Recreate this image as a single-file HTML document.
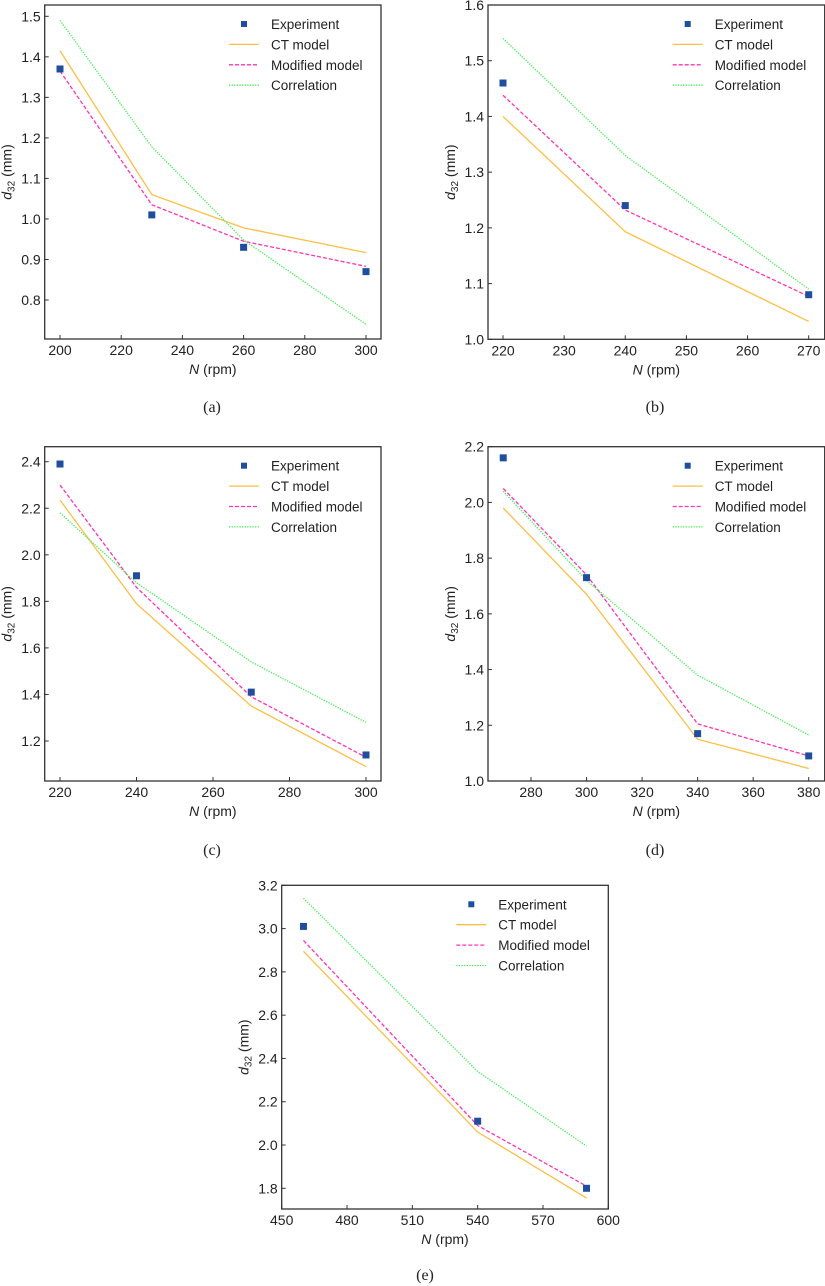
<!DOCTYPE html>
<html><head><meta charset="utf-8"><style>
body{margin:0;background:#fff;width:825px;height:1286px;overflow:hidden}
svg{position:absolute;left:0;top:0}
text{font-family:"Liberation Sans",sans-serif;fill:#222}
.cap{font-family:"Liberation Serif",serif;font-size:16px}
</style></head><body>
<svg id="fig" width="825" height="1286"></svg>
<script>
const xsA=[200,230,260,300], expA=[1.37,1.01,0.93,0.87], ctA=[1.415,1.06,0.978,0.917], modA=[1.365,1.035,0.945,0.883], corA=[1.49,1.178,0.948,0.74];
const xsB=[220,240,270], expB=[1.46,1.24,1.08], ctB=[1.40,1.193,1.032], modB=[1.438,1.232,1.077], corB=[1.54,1.33,1.09];
const xsC=[220,240,270,300], expC=[2.39,1.91,1.41,1.14], ctC=[2.235,1.79,1.35,1.09], modC=[2.30,1.86,1.39,1.13], corC=[2.18,1.88,1.54,1.28];
const xsD=[270,300,340,380], expD=[2.16,1.73,1.17,1.09], ctD=[1.98,1.67,1.15,1.045], modD=[2.05,1.74,1.205,1.09], corD=[2.04,1.72,1.38,1.165];
const xsE=[460,540,590], expE=[3.01,2.11,1.80], ctE=[2.895,2.06,1.755], modE=[2.945,2.09,1.81], corE=[3.14,2.34,1.995];
const xTicksA=[200,220,240,260,280,300], yTicksA=[0.8,0.9,1.0,1.1,1.2,1.3,1.4,1.5];
const xTicksB=[220,230,240,250,260,270], yTicksB=[1.0,1.1,1.2,1.3,1.4,1.5,1.6];
const xTicksC=[220,240,260,280,300], yTicksC=[1.2,1.4,1.6,1.8,2.0,2.2,2.4];
const xTicksD=[280,300,320,340,360,380], yTicksD=[1.0,1.2,1.4,1.6,1.8,2.0,2.2];
const xTicksE=[450,480,510,540,570,600], yTicksE=[1.8,2.0,2.2,2.4,2.6,2.8,3.0,3.2];
const NS="http://www.w3.org/2000/svg", svg=document.getElementById('fig');
function mk(t,a,p){const e=document.createElementNS(NS,t);for(const k in a)e.setAttribute(k,a[k]);(p||svg).appendChild(e);return e;}
const panels=[
 {id:'a',L:44.7,R:381,T:5,B:339,x0:200,px0:60,x1:300,px1:366,y0:0.8,py0:300,y1:1.5,py1:16.3,xs:xsA,e:expA,c:ctA,m:modA,r:corA,xt:xTicksA,yt:yTicksA,cx:212,cy:412},
 {id:'b',L:488,R:824.7,T:5,B:339.3,x0:220,px0:503,x1:270,px1:808.7,y0:1.0,py0:339.3,y1:1.6,py1:5,xs:xsB,e:expB,c:ctB,m:modB,r:corB,xt:xTicksB,yt:yTicksB,cx:655,cy:412},
 {id:'c',L:44.7,R:381,T:446.7,B:781,x0:220,px0:60,x1:300,px1:366,y0:1.2,py0:741,y1:2.4,py1:461.7,xs:xsC,e:expC,c:ctC,m:modC,r:corC,xt:xTicksC,yt:yTicksC,cx:212,cy:855},
 {id:'d',L:488,R:824.7,T:446.7,B:781,x0:280,px0:531,x1:380,px1:808.7,y0:1.0,py0:781,y1:2.2,py1:446.7,xs:xsD,e:expD,c:ctD,m:modD,r:corD,xt:xTicksD,yt:yTicksD,cx:655,cy:855},
 {id:'e',L:281.7,R:608.3,T:885.3,B:1209,x0:450,px0:281.7,x1:600,px1:608.3,y0:1.8,py0:1188.3,y1:3.2,py1:885.3,xs:xsE,e:expE,c:ctE,m:modE,r:corE,xt:xTicksE,yt:yTicksE,cx:425,cy:1280}
];
panels.forEach(p=>{
 const g=mk('g',{});
 
 
 const X=v=>p.px0+(v-p.x0)*(p.px1-p.px0)/(p.x1-p.x0);
 const Y=v=>p.py0+(v-p.y0)*(p.py1-p.py0)/(p.y1-p.y0);
 const box=mk('rect',{x:p.L,y:p.T,width:p.R-p.L,height:p.B-p.T,fill:'none',stroke:'#333','stroke-width':1.3},g);
 
 
 p.xt.forEach(v=>{const x=X(v);mk('line',{x1:x,x2:x,y1:p.B,y2:p.B-4,stroke:'#333'},g);
  const t=mk('text',{x:x,y:p.B+16,'font-size':14,'text-anchor':'middle'},g);t.textContent=v;
  
  });
 p.yt.forEach(v=>{const y=Y(v);mk('line',{x1:p.L,x2:p.L+4,y1:y,y2:y,stroke:'#333'},g);
  const t=mk('text',{x:p.L-4,y:y+5,'font-size':14,'text-anchor':'end'},g);t.textContent=v.toFixed(1);
  
  });
 const xl=mk('text',{x:(p.L+p.R)/2,y:p.B+35,'font-size':14,'text-anchor':'middle'},g);
 xl.innerHTML='<tspan font-style="italic">N</tspan> (rpm)';
 
 
 const yl=mk('text',{x:0,y:0,'font-size':14,'text-anchor':'middle',transform:`translate(${p.L-33},${(p.T+p.B)/2}) rotate(-90)`},g);
 yl.innerHTML='<tspan font-style="italic">d</tspan><tspan font-size="10" dy="3">32</tspan><tspan dy="-3"> (mm)</tspan>';
 
 
 const pts=a=>p.xs.map((x,i)=>X(x)+','+Y(a[i])).join(' ');
 const l1=mk('polyline',{points:pts(p.c),fill:'none',stroke:'#fbbf45','stroke-width':1.3},g);
 
 
 const l2=mk('polyline',{points:pts(p.m),fill:'none',stroke:'#ff33b4','stroke-width':1.3,'stroke-dasharray':'4,2'},g);
 
 
 const l3=mk('polyline',{points:pts(p.r),fill:'none',stroke:'#44ee55','stroke-width':1.3,'stroke-dasharray':'1.3,1.3'},g);
 
 
 p.xs.forEach((x,i)=>{const s=mk('rect',{x:X(x)-3.5,y:Y(p.e[i])-3.5,width:7,height:7,fill:'#1f4e9e'},g);
  
  });
 const lg=mk('g',{},g);
 
 
 const lx=p.R-152, ty=p.T+19, sp=20.4, tx=p.R-110;
 mk('rect',{x:p.R-137-3,y:ty-3,width:6,height:6,fill:'#1f4e9e'},lg);
 mk('line',{x1:lx,x2:lx+30,y1:ty+sp,y2:ty+sp,stroke:'#fbbf45','stroke-width':1.3},lg);
 mk('line',{x1:lx,x2:lx+30,y1:ty+2*sp,y2:ty+2*sp,stroke:'#ff33b4','stroke-width':1.3,'stroke-dasharray':'4,2'},lg);
 mk('line',{x1:lx,x2:lx+30,y1:ty+3*sp,y2:ty+3*sp,stroke:'#44ee55','stroke-width':1.3,'stroke-dasharray':'1.3,1.3'},lg);
 ['Experiment','CT model','Modified model','Correlation'].forEach((s,i)=>{const t=mk('text',{x:tx,y:ty+i*sp+5,'font-size':13.5},lg);t.textContent=s;
  
  });
 const c=mk('text',{x:p.cx,y:p.cy,'text-anchor':'middle',class:'cap'},g);c.textContent='('+p.id+')';
 
 
});
</script>
</body></html>
